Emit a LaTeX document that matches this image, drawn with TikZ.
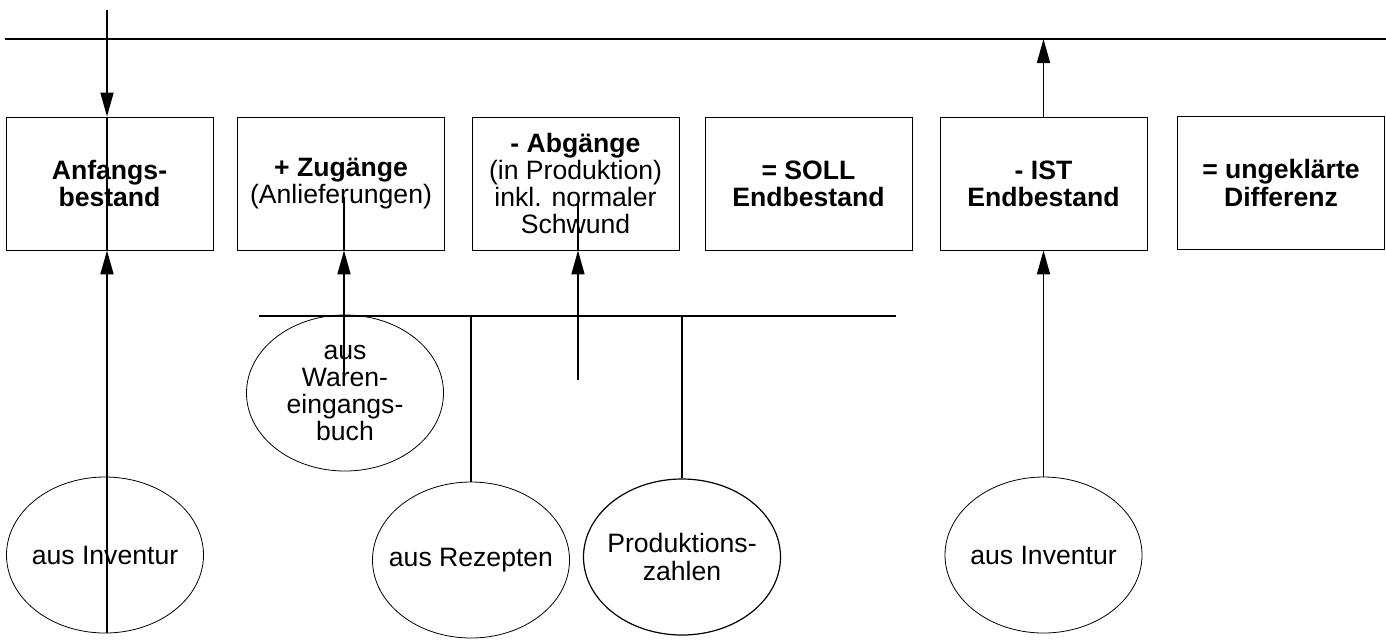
\documentclass[tikz,border=0pt]{standalone}
\usepackage{fontspec}
\setmainfont{Liberation Sans}
\usetikzlibrary{arrows.meta, shapes.geometric}

\begin{document}
\begin{tikzpicture}[x=0.5pt,y=-0.5pt,thick,>={Triangle[length=12pt,width=6.5pt]}]
		\tikzstyle{every node}=[font=\fontsize{13.3}{13.6}\selectfont]
		\tikzstyle{konto}=[draw,thin,rectangle,align=center,minimum width=103.5pt,minimum height=66.5pt,inner sep=0pt]
		\tikzstyle{quelle}=[draw,thin,ellipse,align=center,minimum width=98.5pt,minimum height=78pt,inner xsep=-20pt,inner ysep=0pt]
		
		\useasboundingbox (0,0) rectangle (1386,639);
		
		\node[konto] (anfang) at (109.5,183.5) {\bfseries Anfangs-\\\bfseries bestand};
		\node[konto] (zugang) at (341,183.5) {\textbf{+ Zugänge}\\(Anlieferungen)};
		\node[konto] (abgang) at (575.5,183.5) {\textbf{- Abgänge}\\(in Produktion)\\inkl. normaler\\Schwund};
		\node[konto] (soll) at (808.5,183.5) {\bfseries = SOLL\\\bfseries Endbestand};
		\node[konto] (ist) at (1043.5,183.5) {\bfseries - IST\\\bfseries Endbestand};
		\node[konto] (diff) at (1281,183) {\bfseries = ungeklärte\\\bfseries Differenz};
		
		\node[quelle] (inv_1) at (105,555) {aus Inventur};
		\node[quelle] (ware) at (345,393) {aus\\Waren-\\eingangs-\\buch};
		\node[quelle] (rezept) at (471,560) {aus Rezepten};
		\node[quelle,semithick] (prod) at (682,557) {Produktions-\\zahlen};
		\node[quelle] (inv_2) at (1043.5,555) {aus Inventur};
		
		\coordinate (oben_l) at (5,39);
		\coordinate (oben_r) at (1386,39);
		\coordinate (quer_l) at (259,316);
		\coordinate (quer_r) at (896,316);
		\coordinate (ein_o) at (107,10);
		\coordinate (ein_u) at (107,633);
		\coordinate (zu_o) at (344,197);
		\coordinate (zu_u) at (344,377);
		\coordinate (ab_o) at (578,203);
		\coordinate (ab_u) at (578,380);
		
		\draw (oben_l) -- (oben_r);
		\draw (quer_l) -- (quer_r);
		\draw (anfang.north -| ein_o) -- (anfang.south -| ein_o);
		\draw (zu_o) -- (zugang.south -| zu_o);
		\draw (ab_o) -- (abgang.south -| ab_o);
		\draw (rezept.north |- quer_l) -- (rezept.north);
		\draw (prod.north |- quer_l) -- (prod.north);
		
		\path[->]
		(ein_o) edge (anfang.north -| ein_o)
		(ein_u) edge (anfang.south -| ein_u)
		
		(zu_u) edge (zugang.south -| zu_u)
		(ab_u) edge (abgang.south -| ab_u)
		
		(ist.north) edge (ist.north |- oben_l)
		(inv_2.north) edge (ist.south);

\end{tikzpicture}
\end{document}
